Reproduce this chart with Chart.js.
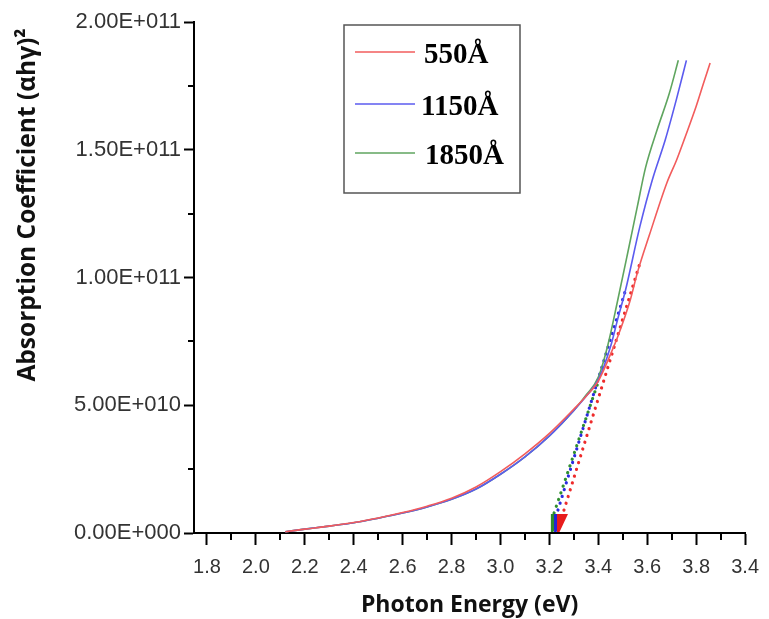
<!DOCTYPE html>
<html>
<head>
<meta charset="utf-8">
<script src="https://cdn.jsdelivr.net/npm/chart.js@4.4.0/dist/chart.umd.min.js"></script>
<style>
  html, body { margin: 0; padding: 0; background: #ffffff; }
  #wrap { width: 769px; height: 619px; position: relative; }
</style>
</head>
<body>
<div id="wrap"><canvas id="chart" width="769" height="619"></canvas></div>
<script>
// Film thickness series
const seriesNames = ['550Å', '1150Å', '1850Å'];
const seriesColors = ['#f25c5c', '#5b5bef', '#5fa55f'];

// (αhν)² versus photon energy for each film
const energy550 = [2.12, 2.2, 2.3, 2.4, 2.5, 2.6, 2.7, 2.8, 2.9, 3.0, 3.1, 3.2, 3.3, 3.35, 3.4, 3.45, 3.48, 3.53, 3.56, 3.61, 3.68, 3.72, 3.755, 3.80, 3.83, 3.857];
const alpha550 = [0.05e10, 0.15e10, 0.27e10, 0.41e10, 0.59e10, 0.8e10, 1.05e10, 1.36e10, 1.8e10, 2.4e10, 3.1e10, 3.9e10, 4.85e10, 5.35e10, 5.95e10, 7.0e10, 7.7e10, 9.1e10, 10.2e10, 11.7e10, 13.7e10, 14.6e10, 15.5e10, 16.7e10, 17.6e10, 18.4e10];

const energy1150 = [2.12, 2.2, 2.3, 2.4, 2.5, 2.6, 2.7, 2.8, 2.9, 3.0, 3.1, 3.2, 3.3, 3.35, 3.4, 3.45, 3.48, 3.511, 3.57, 3.62, 3.674, 3.72, 3.76];
const alpha1150 = [0.05e10, 0.15e10, 0.27e10, 0.4e10, 0.58e10, 0.78e10, 1.02e10, 1.32e10, 1.72e10, 2.3e10, 2.98e10, 3.8e10, 4.8e10, 5.35e10, 6.0e10, 7.3e10, 8.4e10, 9.5e10, 12.0e10, 13.8e10, 15.4e10, 17.0e10, 18.5e10];

const energy1850 = [2.12, 2.2, 2.3, 2.4, 2.5, 2.6, 2.7, 2.8, 2.9, 3.0, 3.1, 3.2, 3.3, 3.35, 3.4, 3.44, 3.479, 3.52, 3.56, 3.593, 3.641, 3.69, 3.727];
const alpha1850 = [0.05e10, 0.15e10, 0.27e10, 0.4e10, 0.58e10, 0.78e10, 1.02e10, 1.32e10, 1.72e10, 2.3e10, 2.98e10, 3.8e10, 4.8e10, 5.4e10, 6.1e10, 7.4e10, 9.1e10, 10.96e10, 12.8e10, 14.3e10, 15.8e10, 17.2e10, 18.5e10];

// Linear extrapolations of the absorption edge (start on the axis side, end on the curve)
const fitEnergy550 = [3.251, 3.568];
const fitAlpha550 = [0.63e10, 10.5e10];
const fitEnergy1150 = [3.235, 3.511];
const fitAlpha1150 = [0.9e10, 9.5e10];
const fitEnergy1850 = [3.219, 3.398];
const fitAlpha1850 = [0.78e10, 5.87e10];

// Band-gap markers on the energy axis (left edge of each arrowhead) and their height
const gapMarkerEnergy = [3.231, 3.219, 3.206]; // 550Å, 1150Å, 1850Å
const gapMarkerHeight = 0.74e10;

// Axis ticks
const xTickValues = [1.8, 2.0, 2.2, 2.4, 2.6, 2.8, 3.0, 3.2, 3.4, 3.6, 3.8, 4.0];
const xTickLabels = ['1.8', '2.0', '2.2', '2.4', '2.6', '2.8', '3.0', '3.2', '3.4', '3.6', '3.8', '3.4'];
const xMinorValues = [1.9, 2.1, 2.3, 2.5, 2.7, 2.9, 3.1, 3.3, 3.5, 3.7, 3.9];
const yTickValues = [0, 5e10, 1e11, 1.5e11, 2e11];
const yTickLabels = ['0.00E+000', '5.00E+010', '1.00E+011', '1.50E+011', '2.00E+011'];
const yMinorValues = [2.5e10, 7.5e10, 1.25e11, 1.75e11];

const pts = (xs, ys) => xs.map((x, i) => ({ x: x, y: ys[i] }));

const curveStyle = (color) => ({
  borderColor: color, backgroundColor: color, borderWidth: 1.6,
  pointRadius: 0, fill: false, cubicInterpolationMode: 'monotone'
});
const fitStyle = (color) => ({
  borderColor: color, backgroundColor: color, borderWidth: 3.2,
  borderDash: [0.1, 7], borderCapStyle: 'round', pointRadius: 0, fill: false, tension: 0
});

// Minor tick marks on both axes
const minorTicks = {
  id: 'minorTicks',
  afterDraw(chart) {
    const { ctx, scales: { x, y }, chartArea } = chart;
    ctx.save();
    ctx.strokeStyle = '#000';
    ctx.lineWidth = 2;
    ctx.beginPath();
    xMinorValues.forEach(v => {
      const px = Math.round(x.getPixelForValue(v));
      ctx.moveTo(px, chartArea.bottom);
      ctx.lineTo(px, chartArea.bottom + 7);
    });
    yMinorValues.forEach(v => {
      const py = Math.round(y.getPixelForValue(v));
      ctx.moveTo(chartArea.left, py);
      ctx.lineTo(chartArea.left - 6, py);
    });
    ctx.stroke();
    ctx.restore();
  }
};

// Arrowheads marking where each extrapolated line meets the energy axis
const gapMarkers = {
  id: 'gapMarkers',
  afterDatasetsDraw(chart) {
    const { ctx, scales: { x, y } } = chart;
    const base = y.getPixelForValue(0);
    const top = y.getPixelForValue(gapMarkerHeight);
    ctx.save();
    // drawn back to front: 1850Å, 1150Å, 550Å
    [2, 1, 0].forEach(i => {
      const left = x.getPixelForValue(gapMarkerEnergy[i]);
      ctx.fillStyle = ['#e81c1c', '#2323d8', '#2e8b2e'][i];
      ctx.beginPath();
      ctx.moveTo(left, top);
      ctx.lineTo(left + 11, top);
      ctx.lineTo(left + 2.5, base - 1);
      ctx.lineTo(left, base - 1);
      ctx.closePath();
      ctx.fill();
    });
    ctx.restore();
  }
};

// Boxed legend in the upper part of the plot
const boxLegend = {
  id: 'boxLegend',
  afterDraw(chart, args, opts) {
    const { ctx } = chart;
    ctx.save();
    ctx.strokeStyle = '#555';
    ctx.lineWidth = 1.5;
    ctx.strokeRect(opts.left, opts.top, opts.width, opts.height);
    ctx.font = 'bold 29px "Liberation Serif", "Times New Roman", serif';
    ctx.fillStyle = '#000';
    ctx.textBaseline = 'alphabetic';
    seriesNames.forEach((name, i) => {
      const ly = opts.rowY[i];
      ctx.strokeStyle = seriesColors[i];
      ctx.lineWidth = 1.6;
      ctx.beginPath();
      ctx.moveTo(opts.left + 11, ly);
      ctx.lineTo(opts.left + 71, ly);
      ctx.stroke();
      ctx.fillText(name, opts.textX[i], ly + 11);
    });
    ctx.restore();
  }
};

const xTickFont = { family: '"Liberation Sans", Arial, sans-serif', size: 20 };
const yTickFont = { family: '"Liberation Sans", Arial, sans-serif', size: 22 };
const xTitleFont = { family: '"Open Sans", sans-serif', size: 23, weight: 'bold' };
const yTitleFont = { family: '"Open Sans", sans-serif', size: 24.5, weight: 'bold' };

new Chart(document.getElementById('chart'), {
  type: 'line',
  data: {
    datasets: [
      { label: seriesNames[0], data: pts(energy550, alpha550), ...curveStyle(seriesColors[0]) },
      { label: seriesNames[1], data: pts(energy1150, alpha1150), ...curveStyle(seriesColors[1]) },
      { label: seriesNames[2], data: pts(energy1850, alpha1850), ...curveStyle(seriesColors[2]) },
      { label: 'fit 550', data: pts(fitEnergy550, fitAlpha550), ...fitStyle('#ee2b2b') },
      { label: 'fit 1150', data: pts(fitEnergy1150, fitAlpha1150), ...fitStyle('#2b2be0') },
      { label: 'fit 1850', data: pts(fitEnergy1850, fitAlpha1850), ...fitStyle('#2f8f2f') }
    ]
  },
  options: {
    responsive: false,
    animation: false,
    devicePixelRatio: 1,
    layout: { padding: { left: 0, right: 21, top: 22, bottom: 0 } },
    plugins: {
      legend: { display: false },
      tooltip: { enabled: false },
      boxLegend: { left: 344, top: 25, width: 176, height: 168, rowY: [52, 104, 153], textX: [424, 421, 425] }
    },
    scales: {
      x: {
        type: 'linear',
        min: 1.747,
        max: 4.0,
        afterBuildTicks: s => { s.ticks = xTickValues.map(v => ({ value: v })); },
        afterFit: s => { s.height = 86; },
        ticks: {
          autoSkip: false, maxRotation: 0, padding: 10,
          color: '#333', font: xTickFont,
          callback: (v, i) => xTickLabels[i]
        },
        grid: { drawOnChartArea: false, drawTicks: true, tickLength: 12, tickColor: '#000', tickWidth: 2 },
        border: { display: true, color: '#000', width: 2 },
        title: { display: true, text: 'Photon Energy (eV)', color: '#111', font: xTitleFont, padding: { top: 0, bottom: 0 } }
      },
      y: {
        type: 'linear',
        min: 0,
        max: 2e11,
        afterBuildTicks: s => { s.ticks = yTickValues.map(v => ({ value: v })); },
        afterFit: s => { s.width = 194; },
        ticks: {
          padding: 3,
          color: '#333', font: yTickFont,
          callback: (v, i) => yTickLabels[i]
        },
        grid: { drawOnChartArea: false, drawTicks: true, tickLength: 10, tickColor: '#000', tickWidth: 2 },
        border: { display: true, color: '#000', width: 2 },
        title: { display: true, text: 'Absorption Coefficient (αhγ)² ', align: 'end', color: '#111', font: yTitleFont, padding: { top: 13, bottom: 0 } }
      }
    }
  },
  plugins: [minorTicks, gapMarkers, boxLegend]
});
</script>
</body>
</html>
